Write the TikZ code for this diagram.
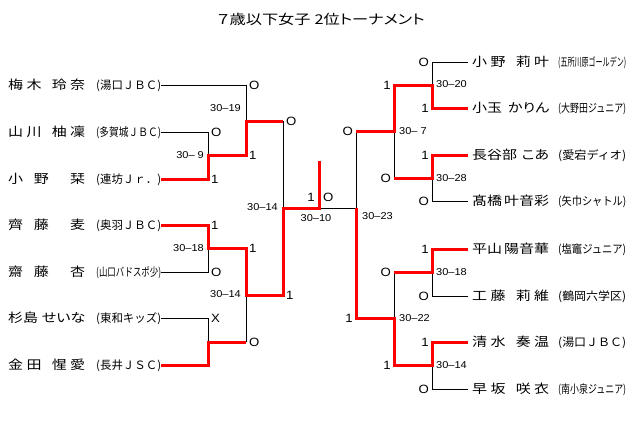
\documentclass[tikz,border=0pt]{standalone}
\usepackage{fontspec}
\usepackage{graphicx}
\setmainfont[FakeStretch=1.1]{Liberation Sans}
\newfontfamily\jp[FakeStretch=1.2, RawFeature=+palt]{Noto Sans CJK JP}
\newfontfamily\jpc[FakeStretch=1.2]{Noto Sans CJK JP}
\usetikzlibrary{calc}
\tikzset{
  win/.style={draw=red, line width=3pt},
  lose/.style={draw=black, line width=0.9pt},
  res/.style={inner sep=0pt, font=\fontsize{12}{12}\selectfont},
  score/.style={inner sep=0pt, font=\fontsize{10}{10}\selectfont},
  pl/.style={inner sep=0pt, font=\jp\fontsize{12.5}{15}\selectfont},
}
\newcommand\club[2]{\resizebox{#1}{\height}{\jpc\fontsize{11.5}{13}\selectfont #2}}
\newcommand\nmL[2]{\makebox[77pt][s]{#1}\hspace{11pt}\club{65pt}{#2}\hspace{11pt}}
\newcommand\nmR[2]{\hspace{4pt}\makebox[77pt][s]{#1}\hspace{9pt}\club{68pt}{#2}}
\newcommand\gap{\hspace{2pt}\hfill}

\begin{document}
\begin{tikzpicture}[x=1pt, y=-1pt]
      \useasboundingbox (0,0) rectangle (640,429);
      \node[pl, font=\jp\fontsize{13.5}{15}\selectfont] (title) at (321,19) {７歳以下女子\hspace{4pt}2位トーナメント};
      \foreach \y/\n/\c [count=\i] in {
        85/梅\hfill 木\hfill\hfill\hfill 玲\hfill 奈/(湯口ＪＢＣ),
        132/山\hfill 川\hfill\hfill\hfill 柚\hfill 凜/(多賀城ＪＢＣ),
        179/小\hfill 野\hfill\hfill 栞/(連坊Ｊｒ．),
        225/齊\hfill 藤\hfill\hfill 麦/(奥羽ＪＢＣ),
        272/齋\hfill 藤\hfill\hfill 杏/(山口バドスポ少),
        318/杉島\gap せいな/(東和キッズ),
        365/金\hfill 田\hfill\hfill\hfill 惺\hfill 愛/(長井ＪＳＣ)}
      {
        \node[pl, anchor=west] (l\i) at (8,\y) {\nmL{\n}{\c}};
      }
      \foreach \y/\n/\c [count=\i] in {
        62/小\hfill 野\hfill\hfill\hfill 莉\hfill 叶/(五所川原ゴールデン),
        108/小玉\gap かりん/(大野田ジュニア),
        155/長谷部\gap こあ/(愛宕ディオ),
        201/髙橋\gap 叶音彩/(矢巾シャトル),
        249/平山\gap 陽音華/(塩竈ジュニア),
        296/工\hfill 藤\hfill\hfill\hfill 莉\hfill 維/(鶴岡六学区),
        342/清\hfill 水\hfill\hfill\hfill 奏\hfill 温/(湯口ＪＢＣ),
        389/早\hfill 坂\hfill\hfill\hfill 咲\hfill 衣/(南小泉ジュニア)}
      {
        \node[pl, anchor=west] (r\i) at (468,\y) {\nmR{\n}{\c}};
      }
      \coordinate (lj1) at (208,155);
      \coordinate (lj2) at (208,248);
      \coordinate (lj3) at (208,342);
      \coordinate (lk1) at (246,121);
      \coordinate (lk2) at (246,295);
      \coordinate (lm) at (283,208);
      \coordinate (fin) at (319,208);
      \coordinate (top) at (319,161);
      \coordinate (rj1) at (432,85);
      \coordinate (rj2) at (432,178);
      \coordinate (rj3) at (432,272);
      \coordinate (rj4) at (432,365);
      \coordinate (rk1) at (394,131);
      \coordinate (rk2) at (394,318);
      \coordinate (rm) at (356,208);
      \draw[lose] (l1.east) -| (lk1);
      \draw[lose] (l2.east) -| (lj1);
      \draw[lose] (l5.east) -| (lj2);
      \draw[lose] (l6.east) -| (lj3);
      \draw[lose] (lj3 -| lk2) -- (lk2);
      \draw[lose] (lk1 -| lm) -- (lm);
      \draw[lose] (fin) -- (rm) -- (rk1 -| rm);
      \draw[lose] (r1.west) -| (rj1);
      \draw[lose] (r4.west) -| (rj2);
      \draw[lose] (rj2 -| rk1) -- (rk1);
      \draw[lose] (r6.west) -| (rj3);
      \draw[lose] (rj3 -| rk2) -- (rk2);
      \draw[lose] (r8.west) -| (rj4);
      \draw[win] (l3.east) -| (lj1) -| (lk1) -- (lk1 -| lm);
      \draw[win] (l4.east) -| (lj2) -| (lk2) -| (lm) -- (fin) -- (top);
      \draw[win] (l7.east) -| (lj3) -- (lj3 -| lk2);
      \draw[win] (r2.west) -| (rj1) -| (rk1) -- (rk1 -| rm);
      \draw[win] (r3.west) -| (rj2) -- (rj2 -| rk1);
      \draw[win] (r5.west) -| (rj3) -- (rj3 -| rk2);
      \draw[win] (r7.west) -| (rj4) -| (rk2) -| (rm);
      \foreach \x/\y/\t [count=\i] in {249/85/O, 211/132/O, 211/179/1, 249/155/1,
        286/121/O, 211/225/1, 249/248/1, 211/272/O, 286/295/1, 211/318/X,
        249/342/O, 323/197/O}
      {
        \node[res, anchor=west] (ml\i) at (\x,\y) {\t};
      }
      \foreach \x/\y/\t [count=\i] in {429/62/O, 429/108/1, 391/85/1, 353/131/O,
        429/155/1, 391/178/O, 429/201/O, 429/249/1, 391/272/O, 429/296/O,
        353/318/1, 429/342/1, 391/365/1, 429/389/O, 315/197/1}
      {
        \node[res, anchor=east] (mr\i) at (\x,\y) {\t};
      }
      \foreach \x/\y/\t [count=\i] in {241/108/30–19, 204/155/30–\ 9,
        204/248/30–18, 241/294/30–14, 278/207/30–14}
      {
        \node[score, anchor=east] (sl\i) at (\x,\y) {\t};
      }
      \foreach \x/\y/\t [count=\i] in {362/216/30–23, 436/84/30–20,
        399/131/30–\ 7, 436/178/30–28, 436/272/30–18, 399/318/30–22,
        436/365/30–14}
      {
        \node[score, anchor=west] (sr\i) at (\x,\y) {\t};
      }
      \node[score] (sf) at (316,218) {30–10};
    \end{tikzpicture}
\end{document}
